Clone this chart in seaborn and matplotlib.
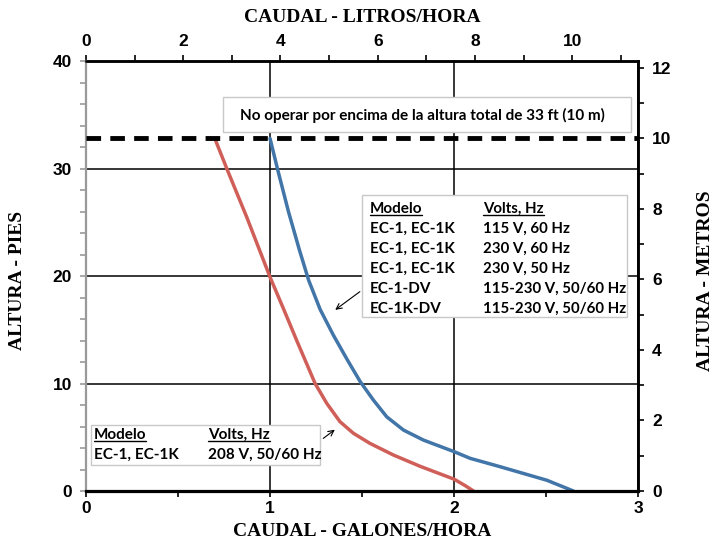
import matplotlib
matplotlib.use('Agg')
import matplotlib.pyplot as plt
import seaborn as sns
import pandas as pd
from matplotlib.patches import Rectangle
from matplotlib.lines import Line2D
from matplotlib.ticker import MultipleLocator

# curve data (flow in gal/h, head in ft)
red_gph = [0.70, 0.765, 0.873, 1.00, 1.072, 1.145, 1.245, 1.308, 1.38, 1.453, 1.543, 1.67, 1.815, 2.00, 2.06, 2.105]
red_ft = [32.8, 30.0, 25.5, 19.9, 17.0, 14.0, 10.0, 8.16, 6.45, 5.37, 4.43, 3.35, 2.3, 1.1, 0.5, 0.0]
blue_gph = [1.00, 1.04, 1.10, 1.16, 1.21, 1.272, 1.344, 1.42, 1.489, 1.561, 1.634, 1.725, 1.833, 2.00, 2.087,
            2.25, 2.504, 2.648]
blue_ft = [32.8, 30.0, 26.0, 22.4, 19.6, 16.9, 14.5, 12.2, 10.2, 8.47, 6.9, 5.67, 4.74, 3.66, 3.04,
           2.26, 1.0, 0.0]
max_head_ft = 32.8

L_PER_GAL = 3.785
M_PER_FT = 0.3048

note_text = 'No operar por encima de la altura total de 33 ft (10 m)'
blue_models = ['Modelo', 'EC-1, EC-1K', 'EC-1, EC-1K', 'EC-1, EC-1K', 'EC-1-DV', 'EC-1K-DV']
blue_volts = ['Volts, Hz', '115 V, 60 Hz', '230 V, 60 Hz', '230 V, 50 Hz', '115-230 V, 50/60 Hz', '115-230 V, 50/60 Hz']
red_models = ['Modelo', 'EC-1, EC-1K']
red_volts = ['Volts, Hz', '208 V, 50/60 Hz']

red_df = pd.DataFrame({'gph': red_gph, 'ft': red_ft})
blue_df = pd.DataFrame({'gph': blue_gph, 'ft': blue_ft})

sns.set_style('white')
plt.rcParams['font.family'] = ['Liberation Sans', 'DejaVu Sans']
plt.rcParams['font.weight'] = 'bold'
plt.rcParams['text.color'] = 'black'
plt.rcParams['axes.labelcolor'] = 'black'
plt.rcParams['xtick.labelcolor'] = 'black'
plt.rcParams['ytick.labelcolor'] = 'black'

RED = '#cf5f58'
BLUE = '#4275a8'

fig = plt.figure(figsize=(7.22, 5.46), dpi=100)
ax = fig.add_axes([0.119, 0.1007, 0.765, 0.7875])

sns.lineplot(data=red_df, x='gph', y='ft', sort=False, estimator=None, color=RED, lw=2.5, ax=ax)
sns.lineplot(data=blue_df, x='gph', y='ft', sort=False, estimator=None, color=BLUE, lw=2.5, ax=ax)
ax.axhline(max_head_ft, color='black', lw=3.5, dashes=(3, 1.9), zorder=4)

ax.set_xlim(0, 3)
ax.set_ylim(0, 40)
ax.xaxis.set_major_locator(MultipleLocator(1))
ax.xaxis.set_minor_locator(MultipleLocator(0.5))
ax.yaxis.set_major_locator(MultipleLocator(10))
ax.yaxis.set_minor_locator(MultipleLocator(2))
ax.grid(True, which='major', color='black', lw=1.1)
ax.set_axisbelow(True)

ax.tick_params(axis='x', which='both', direction='out', length=4, width=1.2, color='black',
               labelcolor='black', labelsize=12.5, pad=3, bottom=True)
ax.tick_params(axis='y', which='both', direction='out', length=4, width=1.2, color='#999999',
               labelcolor='black', labelsize=12.5, pad=6, left=True)

for side in ['top', 'right', 'bottom']:
    ax.spines[side].set_color('black')
ax.spines['bottom'].set_linewidth(2.3)
ax.spines['top'].set_linewidth(1.8)
ax.spines['right'].set_linewidth(1.8)
ax.spines['left'].set_color('#999999')
ax.spines['left'].set_linewidth(1.6)

# secondary axes: litres/hour on top, metres on the right
top = ax.secondary_xaxis('top', functions=(lambda g: g * L_PER_GAL, lambda l: l / L_PER_GAL))
top.xaxis.set_major_locator(MultipleLocator(2))
top.xaxis.set_minor_locator(MultipleLocator(1))
top.tick_params(which='both', direction='out', length=4, width=1.2, color='black',
                labelcolor='black', labelsize=12.5, pad=5)
top.spines['top'].set_linewidth(1.8)
top.spines['top'].set_color('black')
top.yaxis.set_visible(False)

right = ax.secondary_yaxis('right', functions=(lambda f: f * M_PER_FT, lambda m: m / M_PER_FT))
right.yaxis.set_major_locator(MultipleLocator(2))
right.yaxis.set_minor_locator(MultipleLocator(1))
right.tick_params(which='both', direction='out', length=4, width=1.2, color='black',
                  labelcolor='black', labelsize=12.5, pad=6)
right.spines['right'].set_linewidth(1.8)
right.spines['right'].set_color('black')
right.xaxis.set_visible(False)

for a in [ax, top, right]:
    for lab in a.get_xticklabels() + a.get_yticklabels():
        lab.set_fontweight('bold')

serif = dict(family=['Liberation Serif', 'DejaVu Serif'], fontsize=14, fontweight='bold', color='black')
ax.set_xlabel('CAUDAL - GALONES/HORA', va='center', ha='center', **serif)
ax.xaxis.set_label_coords(0.5, -0.095, transform=ax.transAxes)
ax.set_ylabel('ALTURA - PIES', va='center', ha='center', **serif)
ax.yaxis.set_label_coords(-0.123, 0.49, transform=ax.transAxes)
top.set_xlabel('CAUDAL - LITROS/HORA', va='center', ha='center', **serif)
top.xaxis.set_label_coords(0.5, 1.102, transform=ax.transAxes)
right.set_ylabel('ALTURA - METROS', va='center', ha='center', rotation=90, **serif)
right.yaxis.set_label_coords(1.121, 0.49, transform=ax.transAxes)

# text boxes
box_font = dict(family=['Lato', 'DejaVu Sans'], fontsize=11, fontweight='bold', color='black')
for (x0, y0, w, h) in [(0.248, 0.835, 0.738, 0.081), (0.50, 0.405, 0.48, 0.283), (0.009, 0.060, 0.415, 0.093)]:
    ax.add_patch(Rectangle((x0, y0), w, h, transform=ax.transAxes, facecolor='white',
                           edgecolor='#c8c8c8', lw=1.0, zorder=5))

ax.text(0.61, 0.874, note_text, transform=ax.transAxes, ha='center', va='center', zorder=6, **box_font)

headers = []
for i, (m, v) in enumerate(zip(blue_models, blue_volts)):
    y = 0.656 - i * 0.0465
    t1 = ax.text(0.514, y, m, transform=ax.transAxes, ha='left', va='center', zorder=6, **box_font)
    t2 = ax.text(0.719, y, v, transform=ax.transAxes, ha='left', va='center', zorder=6,
                 **dict(box_font, fontsize=10.8))
    if i == 0:
        headers += [t1, t2]
for i, (m, v) in enumerate(zip(red_models, red_volts)):
    y = 0.130 - i * 0.0465
    t1 = ax.text(0.0145, y, m, transform=ax.transAxes, ha='left', va='center', zorder=6, **box_font)
    t2 = ax.text(0.221, y, v, transform=ax.transAxes, ha='left', va='center', zorder=6, **box_font)
    if i == 0:
        headers += [t1, t2]

# arrows pointing at the curves
ax.annotate('', xy=(1.342, 16.7), xytext=(1.50, 18.7),
            arrowprops=dict(arrowstyle='->', color='black', lw=0.8), zorder=6)
ax.annotate('', xy=(1.364, 5.86), xytext=(1.277, 4.74),
            arrowprops=dict(arrowstyle='->', color='black', lw=0.8), zorder=6)

# underline the header cells
fig.canvas.draw()
renderer = fig.canvas.get_renderer()
for t in headers:
    bb = t.get_window_extent(renderer)
    x0, y0 = fig.transFigure.inverted().transform((bb.x0, bb.y0 + 1))
    x1, _ = fig.transFigure.inverted().transform((bb.x1, bb.y0 + 1))
    fig.add_artist(Line2D([x0, x1], [y0, y0], color='black', lw=1.0, zorder=7))

fig.savefig('out.png', dpi=100)
